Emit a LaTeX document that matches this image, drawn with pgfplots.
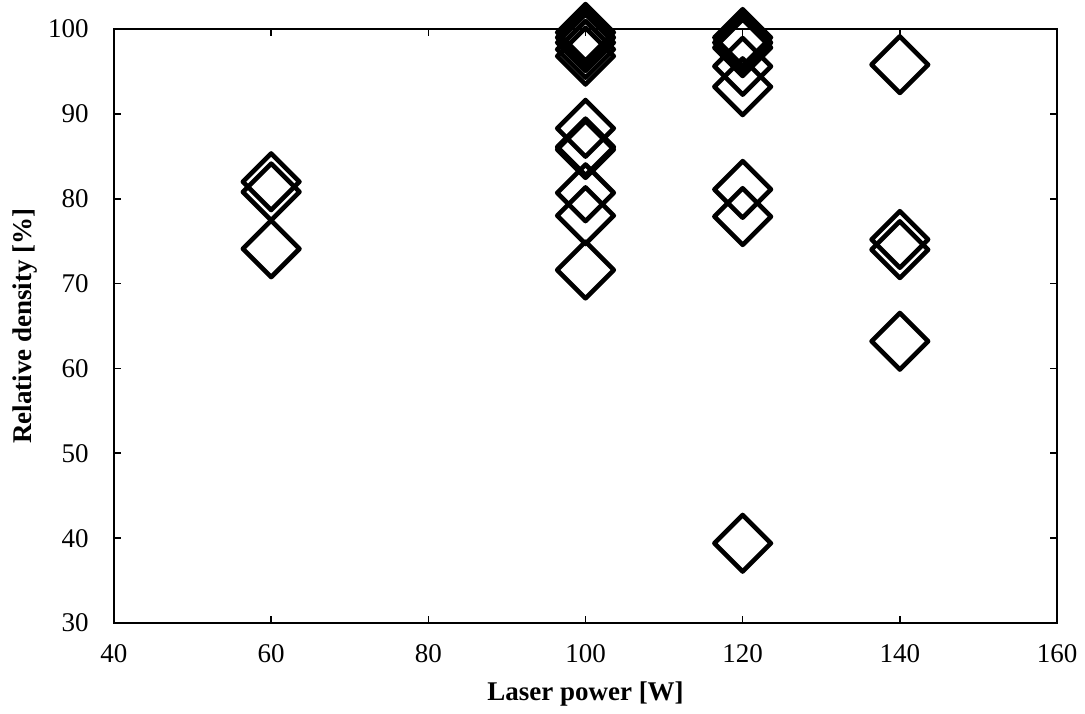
\documentclass[border=0pt]{standalone}
\usepackage{fontspec}
\setmainfont{Liberation Serif}
\usepackage{pgfplots}
\pgfplotsset{compat=1.18}
\begin{document}
\fontsize{13.5}{16}\selectfont
\begin{tikzpicture}
\useasboundingbox (-57pt,-45pt) rectangle (485.5pt,311.5pt);
\begin{axis}[
  at={(0,0)}, anchor=south west,
  scale only axis,
  width=471.5pt, height=297pt,
  xmin=40, xmax=160, ymin=30, ymax=100,
  xtick={40,60,...,160}, ytick={30,40,...,100},
  tick align=inside, major tick length=3.5pt,
  tick style={line width=0.8pt, black},
  axis line style={line width=1.1pt},
  axis on top,
  clip=false,
  /pgf/number format/assume math mode=true,
  ticklabel style={font=\fontsize{13.5}{16}\selectfont},
  xticklabel style={yshift=-6pt},
  yticklabel style={xshift=-8pt},
  xlabel={\textbf{Laser power [W]}},
  ylabel={\textbf{Relative density [\%]}},
  label style={font=\fontsize{13.5}{16}\selectfont},
  xlabel style={yshift=-0.5pt},
  ylabel style={yshift=-4pt},
]
\addplot[only marks, mark=square, mark size=10pt, mark options={rotate=45, line width=2.3pt, draw=black, fill=none, line join=round}] coordinates {
(60,82.0) (60,80.8) (60,74.1)
(100,99.6) (100,99.0) (100,98.4) (100,97.6) (100,96.8) (100,88.3) (100,86.1) (100,85.8) (100,80.7) (100,78.0) (100,71.6)
(120,99.0) (120,98.4) (120,97.8) (120,95.6) (120,93.2) (120,81.1) (120,77.9) (120,39.4)
(140,95.8) (140,75.2) (140,74.0) (140,63.2)
};
\end{axis}
\end{tikzpicture}
\end{document}
